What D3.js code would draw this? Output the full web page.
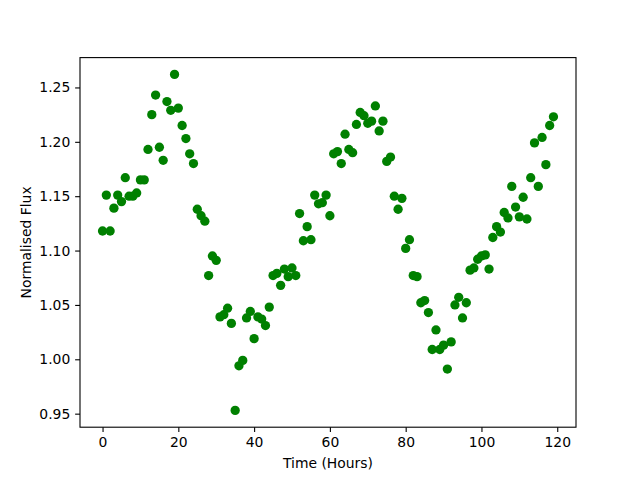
<!DOCTYPE html>
<html>
<head>
<meta charset="utf-8">
<script src="https://cdn.jsdelivr.net/npm/d3@7"></script>
<style>
  body { margin: 0; background: #fff; }
  svg { display: block; font-family: "DejaVu Sans", sans-serif; }
</style>
</head>
<body>
<svg id="chart" width="640" height="480"></svg>
<script>
const MARGIN = { top: 57.6, right: 64, bottom: 52.8, left: 80 };
const WIDTH = 640;
const HEIGHT = 480;

// hours 0..119, one reading per hour
const hours = d3.range(0, 120);
const flux = [
  1.118, 1.151, 1.118, 1.139, 1.151, 1.145, 1.167, 1.150, 1.150, 1.153,
  1.165, 1.165, 1.193, 1.225, 1.243, 1.195, 1.183, 1.237, 1.229, 1.262,
  1.231, 1.215, 1.203, 1.189, 1.180, 1.138, 1.132, 1.127, 1.077, 1.095,
  1.091, 1.039, 1.041, 1.047, 1.033, 0.953, 0.994, 0.999, 1.038, 1.044,
  1.019, 1.039, 1.037, 1.031, 1.048, 1.077, 1.079, 1.068, 1.083, 1.076,
  1.084, 1.077, 1.134, 1.109, 1.122, 1.110, 1.151, 1.143, 1.144, 1.151,
  1.132, 1.189, 1.191, 1.180, 1.207, 1.193, 1.190, 1.216, 1.227, 1.224,
  1.217, 1.219, 1.233, 1.210, 1.219, 1.182, 1.186, 1.150, 1.138, 1.148,
  1.102, 1.110, 1.077, 1.076, 1.052, 1.054, 1.043, 1.009, 1.027, 1.009,
  1.013, 0.991, 1.016, 1.050, 1.057, 1.038, 1.052, 1.082, 1.084, 1.092,
  1.095, 1.096, 1.083, 1.112, 1.122, 1.117, 1.135, 1.130, 1.159, 1.140,
  1.131, 1.149, 1.129, 1.167, 1.199, 1.159, 1.204, 1.179, 1.215, 1.223
];
const xTicks = [0, 20, 40, 60, 80, 100, 120];
const yTicks = [0.95, 1.00, 1.05, 1.10, 1.15, 1.20, 1.25];

const data = hours.map((h, i) => ({ hour: h, flux: flux[i] }));

const width = WIDTH - MARGIN.left - MARGIN.right;
const height = HEIGHT - MARGIN.top - MARGIN.bottom;

const svg = d3.select('#chart');
const g = svg.append('g').attr('transform', `translate(${MARGIN.left},${MARGIN.top})`);

// matplotlib-style 5% margins around the data
const xExt = d3.extent(hours);
const yExt = d3.extent(flux);
const xPad = (xExt[1] - xExt[0]) * 0.05;
const yPad = (yExt[1] - yExt[0]) * 0.05;

const scaleX = d3.scaleLinear()
  .domain([xExt[0] - xPad, xExt[1] + xPad])
  .range([0, width]);

const scaleY = d3.scaleLinear()
  .domain([yExt[0] - yPad, yExt[1] + yPad])
  .range([height, 0]);

const TICK = 4.86;
const FONT = 13.9;

const axisX = d3.axisBottom(scaleX)
  .tickValues(xTicks)
  .tickSize(TICK)
  .tickPadding(4.9)
  .tickFormat(d3.format('d'));

const axisY = d3.axisLeft(scaleY)
  .tickValues(yTicks)
  .tickSize(TICK)
  .tickPadding(4.9)
  .tickFormat(d3.format('.2f'));

const gx = g.append('g')
  .attr('transform', `translate(0,${height})`)
  .call(axisX);
const gy = g.append('g').call(axisY);

[gx, gy].forEach(a => {
  a.select('.domain').remove();
  a.selectAll('line').attr('stroke', '#000').attr('stroke-width', 1.1);
  a.selectAll('text')
    .attr('fill', '#000')
    .style('font-size', FONT + 'px')
    .style('font-family', '"DejaVu Sans", sans-serif');
});

//POINTS
g.append('g')
  .selectAll('circle')
  .data(data)
  .join('circle')
  .attr('cx', d => scaleX(d.hour))
  .attr('cy', d => scaleY(d.flux))
  .attr('r', 4.65)
  .attr('fill', '#008000');

// spines
g.append('rect')
  .attr('width', width)
  .attr('height', height)
  .attr('fill', 'none')
  .attr('stroke', '#000')
  .attr('stroke-width', 1.1);

//LABELS
svg.append('text')
  .attr('x', MARGIN.left + width / 2)
  .attr('y', 468)
  .attr('text-anchor', 'middle')
  .style('font-size', FONT + 'px')
  .text('Time (Hours)');

svg.append('text')
  .attr('transform', `translate(31,${MARGIN.top + height / 2}) rotate(-90)`)
  .attr('text-anchor', 'middle')
  .style('font-size', FONT + 'px')
  .text('Normalised Flux');
</script>
</body>
</html>
